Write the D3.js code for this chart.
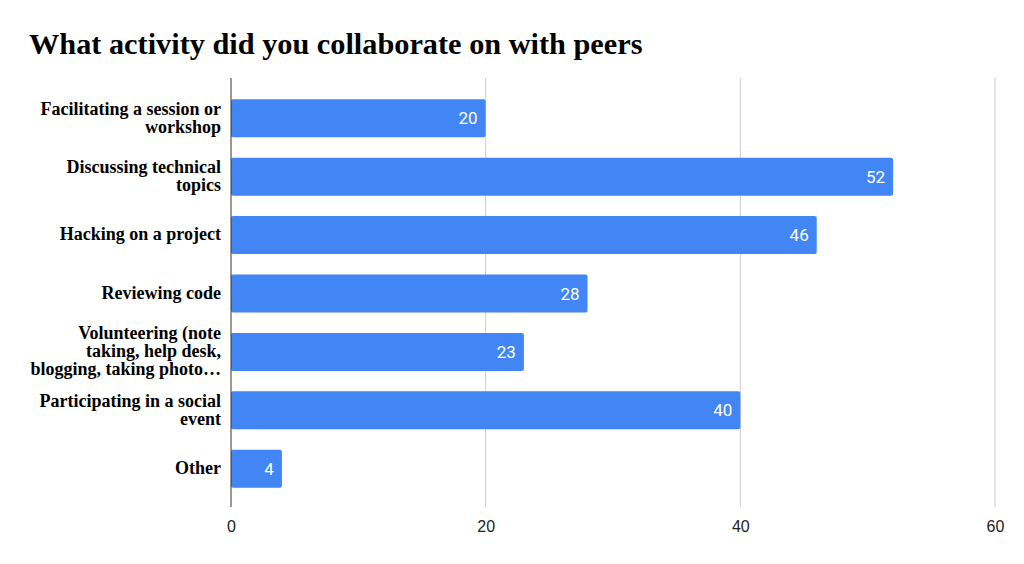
<!DOCTYPE html>
<html><head><meta charset="utf-8">
<script src="https://cdn.jsdelivr.net/npm/d3@7"></script>
<style>body{margin:0;background:#fff}</style>
</head><body>
<svg id="c" width="1024" height="564"></svg>
<script>
const categories = [
  ["Facilitating a session or", "workshop"],
  ["Discussing technical", "topics"],
  ["Hacking on a project"],
  ["Reviewing code"],
  ["Volunteering (note", "taking, help desk,", "blogging, taking photo…"],
  ["Participating in a social", "event"],
  ["Other"]
];
const values = [20, 52, 46, 28, 23, 40, 4];
const xTicks = [0, 20, 40, 60];
const title = "What activity did you collaborate on with peers";

const svg = d3.select("#c");
const x = d3.scaleLinear().domain([0, 60]).range([231, 995]);
const idx = d3.range(values.length);
const y = d3.scaleBand().domain(idx).range([89, 498]).paddingInner(0.35).paddingOuter(0.175);

svg.append("text").attr("x", 29).attr("y", 54)
  .attr("font-family", "Liberation Serif, Times New Roman, serif")
  .attr("font-weight", "bold").attr("font-size", 30.3).attr("fill", "#000")
  .text(title);

// gridlines
svg.append("g").selectAll("line").data(xTicks.slice(1)).join("line")
  .attr("x1", d => x(d)).attr("x2", d => x(d))
  .attr("y1", 78).attr("y2", 507)
  .attr("stroke", "#cccccc").attr("stroke-width", 1);

// bars
svg.append("g").selectAll("rect").data(idx).join("rect")
  .attr("x", x(0)).attr("y", i => y(i))
  .attr("width", i => x(values[i]) - x(0))
  .attr("height", y.bandwidth())
  .attr("rx", 2).attr("fill", "#4285f4");

// value labels
svg.append("g").selectAll("text").data(idx).join("text")
  .attr("x", i => x(values[i]) - 8)
  .attr("y", i => y(i) + y.bandwidth() / 2)
  .attr("dy", "0.36em").attr("text-anchor", "end")
  .attr("font-family", "Roboto, Liberation Sans, Arial, sans-serif")
  .attr("font-size", 17).attr("fill", "#fff")
  .text(i => values[i]);

// axis line
svg.append("line").attr("x1", x(0)).attr("x2", x(0)).attr("y1", 78).attr("y2", 507)
  .attr("stroke", "#333").attr("stroke-width", 1);

// x axis tick labels
const xAxis = d3.axisBottom(x).tickValues(xTicks).tickSize(0).tickPadding(0);
const gx = svg.append("g").attr("transform", "translate(0,521)").call(xAxis);
gx.select(".domain").remove();
gx.selectAll("text").attr("font-family", "Liberation Sans, Arial, sans-serif")
  .attr("font-size", 16).attr("fill", "#222");

// category labels
const lh = 18;
const g = svg.append("g");
idx.forEach(i => {
  const lines = categories[i];
  const cy = y(i) + y.bandwidth() / 2;
  const t = g.append("text").attr("text-anchor", "end")
    .attr("font-family", "Liberation Serif, Times New Roman, serif")
    .attr("font-weight", "bold").attr("font-size", 18).attr("fill", "#000");
  lines.forEach((l, k) => {
    t.append("tspan").attr("x", 221)
      .attr("y", cy + (k - (lines.length - 1) / 2) * lh)
      .attr("dy", "0.3em").text(l);
  });
});
</script>
</body></html>
